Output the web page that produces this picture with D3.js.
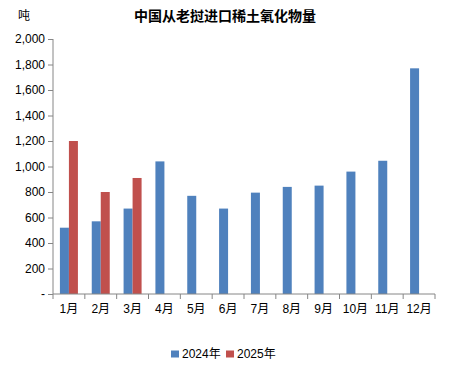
<!DOCTYPE html>
<html>
<head>
<meta charset="utf-8">
<script src="https://cdn.jsdelivr.net/npm/d3@7"></script>
<style>
  body { margin: 0; background: #fff; }
  svg text { font-family: "Liberation Sans", "Noto Sans CJK SC", sans-serif; fill: #000; }
</style>
</head>
<body>
<div id="chart"></div>
<script>
// data
const months = ['1月', '2月', '3月', '4月', '5月', '6月', '7月', '8月', '9月', '10月', '11月', '12月'];
const seriesNames = ['2024年', '2025年'];
const values2024 = [520, 570, 670, 1040, 770, 670, 795, 840, 850, 960, 1045, 1770];
const values2025 = [1200, 800, 910, null, null, null, null, null, null, null, null, null];
const yTicks = [0, 200, 400, 600, 800, 1000, 1200, 1400, 1600, 1800, 2000];
const colors = ['#4f81bd', '#c0504d'];

const width = 451, height = 375;
const margin = {top: 39, right: 16, bottom: 81, left: 53};
const innerW = width - margin.left - margin.right;
const innerH = height - margin.top - margin.bottom;

const svg = d3.select('#chart').append('svg')
    .attr('width', width)
    .attr('height', height);

const g = svg.append('g')
    .attr('transform', 'translate(' + margin.left + ',' + margin.top + ')');

// scales
const xScale = d3.scaleBand().domain(months).range([0, innerW]).padding(0);
const xInner = d3.scaleBand().domain(seriesNames).range([xScale.bandwidth() / 2 - 9, xScale.bandwidth() / 2 + 9]);
const yScale = d3.scaleLinear().domain([0, 2000]).range([innerH, 0]);

// bars
const rows = months.map((m, i) => ({month: m, vals: [values2024[i], values2025[i]]}));
const groups = g.selectAll('.group')
    .data(rows)
    .enter()
    .append('g')
    .attr('transform', (d) => 'translate(' + xScale(d.month) + ',0)');

groups.selectAll('rect')
    .data((d) => d.vals.map((v, j) => ({name: seriesNames[j], v: v, c: colors[j]})).filter((d) => d.v != null))
    .enter()
    .append('rect')
    .attr('x', (d) => xInner(d.name))
    .attr('width', xInner.bandwidth())
    .attr('y', (d) => yScale(d.v))
    .attr('height', (d) => innerH - yScale(d.v))
    .attr('fill', (d) => d.c);

// y axis
const yAxis = d3.axisLeft(yScale)
    .tickValues(yTicks)
    .tickSize(5)
    .tickPadding(3)
    .tickFormat((t) => t === 0 ? '-' : d3.format(',')(t));
const yg = g.append('g').call(yAxis);
yg.select('.domain').attr('stroke', '#868686').attr('d', 'M0,0V' + innerH);
yg.selectAll('.tick line').attr('stroke', '#868686');
yg.selectAll('.tick text').style('font-size', '12px');

// x axis, ticks at category boundaries
const xg = g.append('g').attr('transform', 'translate(0,' + innerH + ')');
xg.append('line')
    .attr('x1', 0).attr('x2', innerW)
    .attr('stroke', '#868686');
xg.selectAll('.xtick')
    .data(months.concat(['end']))
    .enter()
    .append('line')
    .attr('x1', (d, i) => i * xScale.step())
    .attr('x2', (d, i) => i * xScale.step())
    .attr('y1', 0).attr('y2', 5)
    .attr('stroke', '#868686');
xg.selectAll('.xlabel')
    .data(months)
    .enter()
    .append('text')
    .attr('x', (d) => xScale(d) + xScale.bandwidth() / 2)
    .attr('y', 19)
    .attr('text-anchor', 'middle')
    .style('font-size', '12px')
    .text((d) => d);

// title and unit
svg.append('text')
    .attr('x', 225)
    .attr('y', 21)
    .attr('text-anchor', 'middle')
    .style('font-size', '14px')
    .style('font-weight', 'bold')
    .text('中国从老挝进口稀土氧化物量');

svg.append('text')
    .attr('x', 18)
    .attr('y', 20)
    .style('font-size', '12px')
    .text('吨');

// legend
const legend = svg.append('g').attr('transform', 'translate(171,358)');
const items = legend.selectAll('.item')
    .data(seriesNames)
    .enter()
    .append('g')
    .attr('transform', (d, i) => 'translate(' + (i * 55) + ',0)');
items.append('rect')
    .attr('x', 0).attr('y', -7.5)
    .attr('width', 8).attr('height', 7)
    .attr('fill', (d, i) => colors[i]);
items.append('text')
    .attr('x', 11)
    .attr('y', 0)
    .style('font-size', '12px')
    .text((d) => d);
</script>
</body>
</html>
